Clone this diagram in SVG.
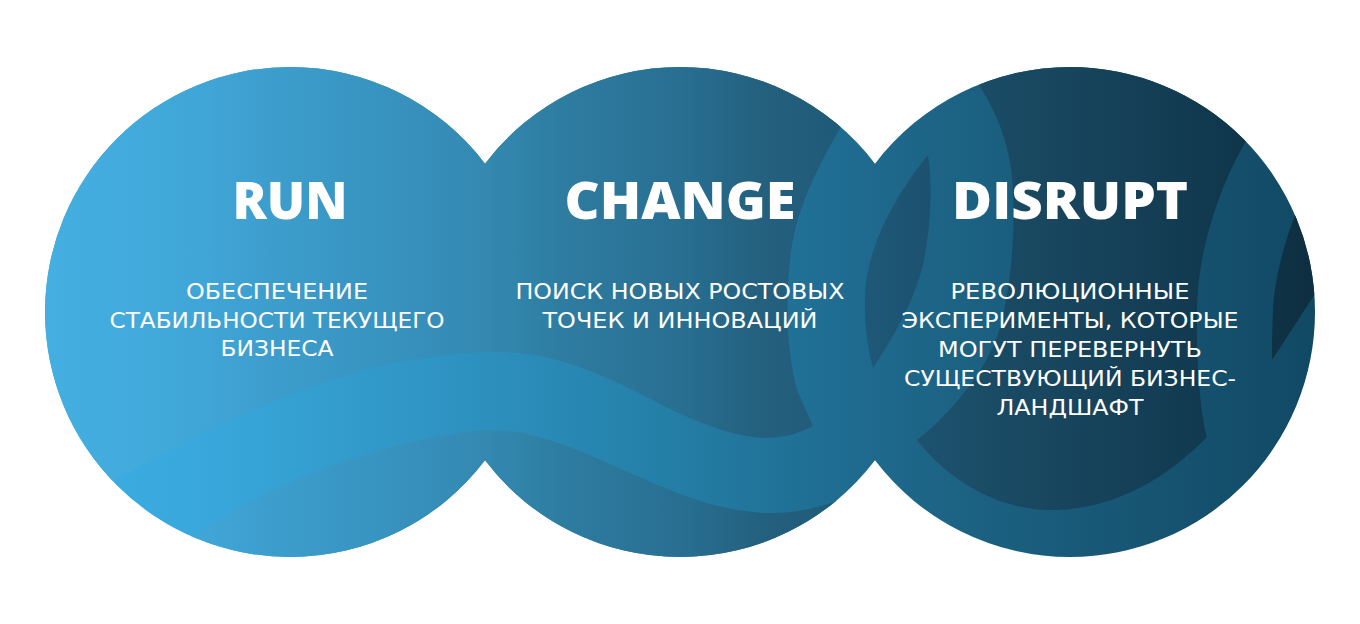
<svg xmlns="http://www.w3.org/2000/svg" width="1360" height="624" viewBox="0 0 1360 624">
  <defs>
    <clipPath id="blob">
      <circle cx="290" cy="312" r="245"/>
      <circle cx="680" cy="312" r="245"/>
      <circle cx="1070" cy="312" r="245"/>
    </clipPath>
    <linearGradient id="ribbon" gradientUnits="userSpaceOnUse" x1="45" y1="0" x2="1315" y2="0">
      <stop offset="0" stop-color="#3cade2"/>
      <stop offset="0.12" stop-color="#39a8dc"/>
      <stop offset="0.34" stop-color="#2d91bf"/>
      <stop offset="0.48" stop-color="#2480a8"/>
      <stop offset="0.6" stop-color="#206f95"/>
      <stop offset="0.72" stop-color="#1c6283"/>
      <stop offset="0.85" stop-color="#175674"/>
      <stop offset="1" stop-color="#114964"/>
    </linearGradient>
    <linearGradient id="base" gradientUnits="userSpaceOnUse" x1="45" y1="0" x2="1315" y2="0">
      <stop offset="0" stop-color="#45afe1"/>
      <stop offset="0.12" stop-color="#40a6d8"/>
      <stop offset="0.19" stop-color="#3c9ccb"/>
      <stop offset="0.3" stop-color="#368fba"/>
      <stop offset="0.35" stop-color="#3388b0"/>
      <stop offset="0.41" stop-color="#2e7ca0"/>
      <stop offset="0.5" stop-color="#286f92"/>
      <stop offset="0.56" stop-color="#24617f"/>
      <stop offset="0.66" stop-color="#1e5676"/>
      <stop offset="0.75" stop-color="#1a4b64"/>
      <stop offset="0.83" stop-color="#16425a"/>
      <stop offset="0.91" stop-color="#113a50"/>
      <stop offset="1" stop-color="#0d2e3f"/>
    </linearGradient>
  </defs>
  <style>
    .title { font-family: "Open Sans", "DejaVu Sans", sans-serif; font-weight: 800; font-size: 52px; fill: #ffffff; }
    .sub { font-family: "DejaVu Sans", "Open Sans", sans-serif; font-size: 20.5px; fill: #ffffff; }
    .base { fill: url(#base); }
  </style>

  <g id="background" clip-path="url(#blob)">
    <rect x="0" y="0" width="1360" height="624" fill="url(#ribbon)"/>
    <path class="base" d="M -10 -10 L 870 -10 L 850 112 C 830 145 800 195 792 245 C 785 290 786 350 797 390 L 813 426 C 800 433 785 438 765 438 C 735 437 700 424 660 404 C 610 378 560 353 500 352 C 460 352 420 356 373 368 C 270 395 180 445 110 482 L -10 545 Z"/>
    <path class="base" d="M -10 624 L -10 600 L 185 540 C 230 510 300 470 407 443 C 440 436 460 431 490 430 C 540 430 590 455 630 473 C 670 490 710 510 765 513 C 795 514 820 507 840 500 L 870 488 L 880 624 Z"/>
    <path class="base" d="M 928 155 C 895 195 866 250 865 295 C 864 325 868 350 873 368 C 895 335 918 295 925 255 C 932 215 932 180 928 155 Z"/>
    <path class="base" d="M 968 40 L 980 87 C 998 115 1012 150 1013 193 C 1015 240 1010 290 1000 327 C 990 365 955 410 917 440 C 940 470 985 507 1045 510 C 1110 512 1165 480 1207 437 C 1198 405 1195 330 1198 290 C 1202 240 1222 180 1248 138 L 1272 100 L 1272 40 Z"/>
    <path class="base" d="M 1312 182 L 1296 213 C 1285 240 1274 280 1273 310 C 1272 330 1272 345 1272 360 L 1345 248 L 1345 150 Z"/>
  </g>

  <g id="node-run">
    <text class="title" x="290" y="219" text-anchor="middle" textLength="115" lengthAdjust="spacingAndGlyphs">RUN</text>
    <text class="sub" x="277" y="299" text-anchor="middle" textLength="182" lengthAdjust="spacingAndGlyphs">ОБЕСПЕЧЕНИЕ</text>
    <text class="sub" x="277" y="328" text-anchor="middle" textLength="335" lengthAdjust="spacingAndGlyphs">СТАБИЛЬНОСТИ ТЕКУЩЕГО</text>
    <text class="sub" x="277" y="356" text-anchor="middle" textLength="113" lengthAdjust="spacingAndGlyphs">БИЗНЕСА</text>
  </g>

  <g id="node-change">
    <text class="title" x="680" y="219" text-anchor="middle" textLength="231" lengthAdjust="spacingAndGlyphs">CHANGE</text>
    <text class="sub" x="680" y="299" text-anchor="middle" textLength="329" lengthAdjust="spacingAndGlyphs">ПОИСК НОВЫХ РОСТОВЫХ</text>
    <text class="sub" x="680" y="328" text-anchor="middle" textLength="275" lengthAdjust="spacingAndGlyphs">ТОЧЕК И ИННОВАЦИЙ</text>
  </g>

  <g id="node-disrupt">
    <text class="title" x="1070" y="219" text-anchor="middle" textLength="236" lengthAdjust="spacingAndGlyphs">DISRUPT</text>
    <text class="sub" x="1070" y="299" text-anchor="middle" textLength="239" lengthAdjust="spacingAndGlyphs">РЕВОЛЮЦИОННЫЕ</text>
    <text class="sub" x="1070" y="328" text-anchor="middle" textLength="337" lengthAdjust="spacingAndGlyphs">ЭКСПЕРИМЕНТЫ, КОТОРЫЕ</text>
    <text class="sub" x="1070" y="357" text-anchor="middle" textLength="264" lengthAdjust="spacingAndGlyphs">МОГУТ ПЕРЕВЕРНУТЬ</text>
    <text class="sub" x="1070" y="386" text-anchor="middle" textLength="332" lengthAdjust="spacingAndGlyphs">СУЩЕСТВУЮЩИЙ БИЗНЕС-</text>
    <text class="sub" x="1070" y="415" text-anchor="middle" textLength="147" lengthAdjust="spacingAndGlyphs">ЛАНДШАФТ</text>
  </g>
</svg>
